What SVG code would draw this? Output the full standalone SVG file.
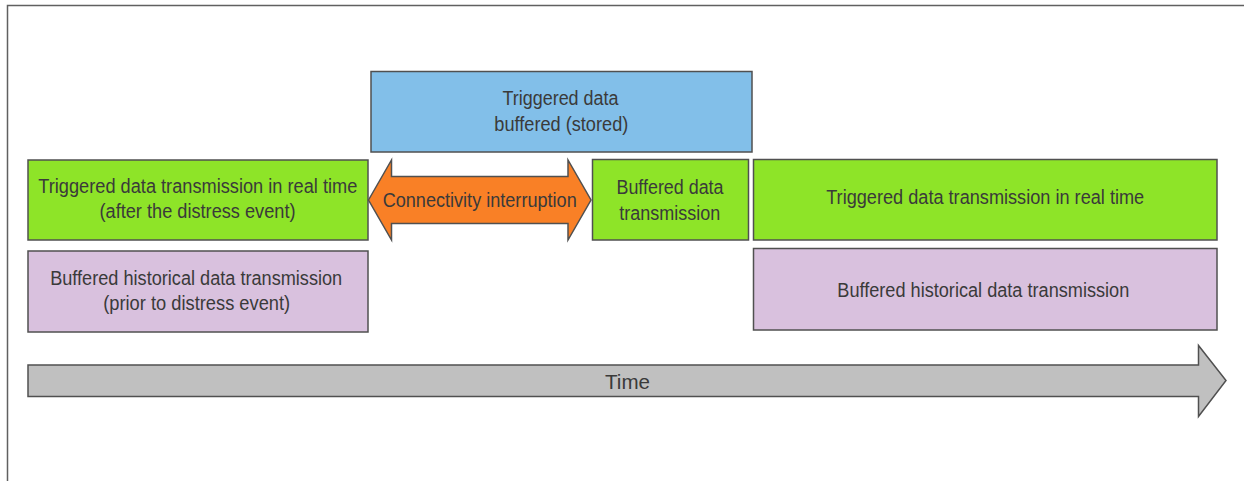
<svg xmlns="http://www.w3.org/2000/svg" width="1244" height="481" viewBox="0 0 1244 481">
<style>
.box{stroke:#505050;stroke-width:1.5}
.g{fill:#8ee428}
.b{fill:#82bfe9}
.p{fill:#d9c1de}
.o{fill:#f98026}
.t{fill:#c0c0c0}
text{font-family:"Liberation Sans",Arial,sans-serif;font-size:19.5px;fill:#3a3a3a;text-anchor:middle}
.frame{stroke:#606060;stroke-width:1.5;fill:none}
</style>
<rect width="1244" height="481" fill="#ffffff"/>
<path class="frame" d="M7.5,481 V5.5 H1244"/>
<g id="blue-buffered">
<rect class="box b" x="371" y="71.5" width="381" height="80.5"/>
<text x="560.5" y="104.5" textLength="116" lengthAdjust="spacingAndGlyphs">Triggered data</text>
<text x="561.3" y="131" textLength="134" lengthAdjust="spacingAndGlyphs">buffered (stored)</text>
</g>
<g id="green-left">
<rect class="box g" x="28" y="160" width="340" height="80"/>
<text x="197.8" y="192.5" textLength="319" lengthAdjust="spacingAndGlyphs">Triggered data transmission in real time</text>
<text x="197.5" y="217.5" textLength="196" lengthAdjust="spacingAndGlyphs">(after the distress event)</text>
</g>
<g id="purple-left">
<rect class="box p" x="28" y="251" width="340" height="81"/>
<text x="196.2" y="284.5" textLength="292" lengthAdjust="spacingAndGlyphs">Buffered historical data transmission</text>
<text x="196.7" y="310" textLength="187" lengthAdjust="spacingAndGlyphs">(prior to distress event)</text>
</g>
<g id="buffered-transmission">
<rect class="box g" x="592.5" y="159.5" width="156" height="80.5"/>
<text x="670" y="193.5" textLength="107" lengthAdjust="spacingAndGlyphs">Buffered data</text>
<text x="669.7" y="220" textLength="101" lengthAdjust="spacingAndGlyphs">transmission</text>
</g>
<g id="green-right">
<rect class="box g" x="753.5" y="159.5" width="463.5" height="80.5"/>
<text x="985.2" y="204" textLength="318" lengthAdjust="spacingAndGlyphs">Triggered data transmission in real time</text>
</g>
<g id="purple-right">
<rect class="box p" x="753.5" y="248.5" width="463.5" height="81.5"/>
<text x="983.3" y="297" textLength="292" lengthAdjust="spacingAndGlyphs">Buffered historical data transmission</text>
</g>
<g id="connectors">
<g id="connectivity-interruption">
<path class="box o" d="M368.5,200 L391.5,160 V176.5 H568 V160 L591,200 L568,240 V223.5 H391.5 V240 Z"/>
<text x="479.7" y="206.5" textLength="194" lengthAdjust="spacingAndGlyphs">Connectivity interruption</text>
</g>
<g id="time-arrow">
<path class="box t" d="M28,365 H1198.5 V345.5 L1226,380.5 L1198.5,416.5 V396.5 H28 Z"/>
<text x="627.5" y="388.5" textLength="45" lengthAdjust="spacingAndGlyphs">Time</text>
</g>
</g>
</svg>
